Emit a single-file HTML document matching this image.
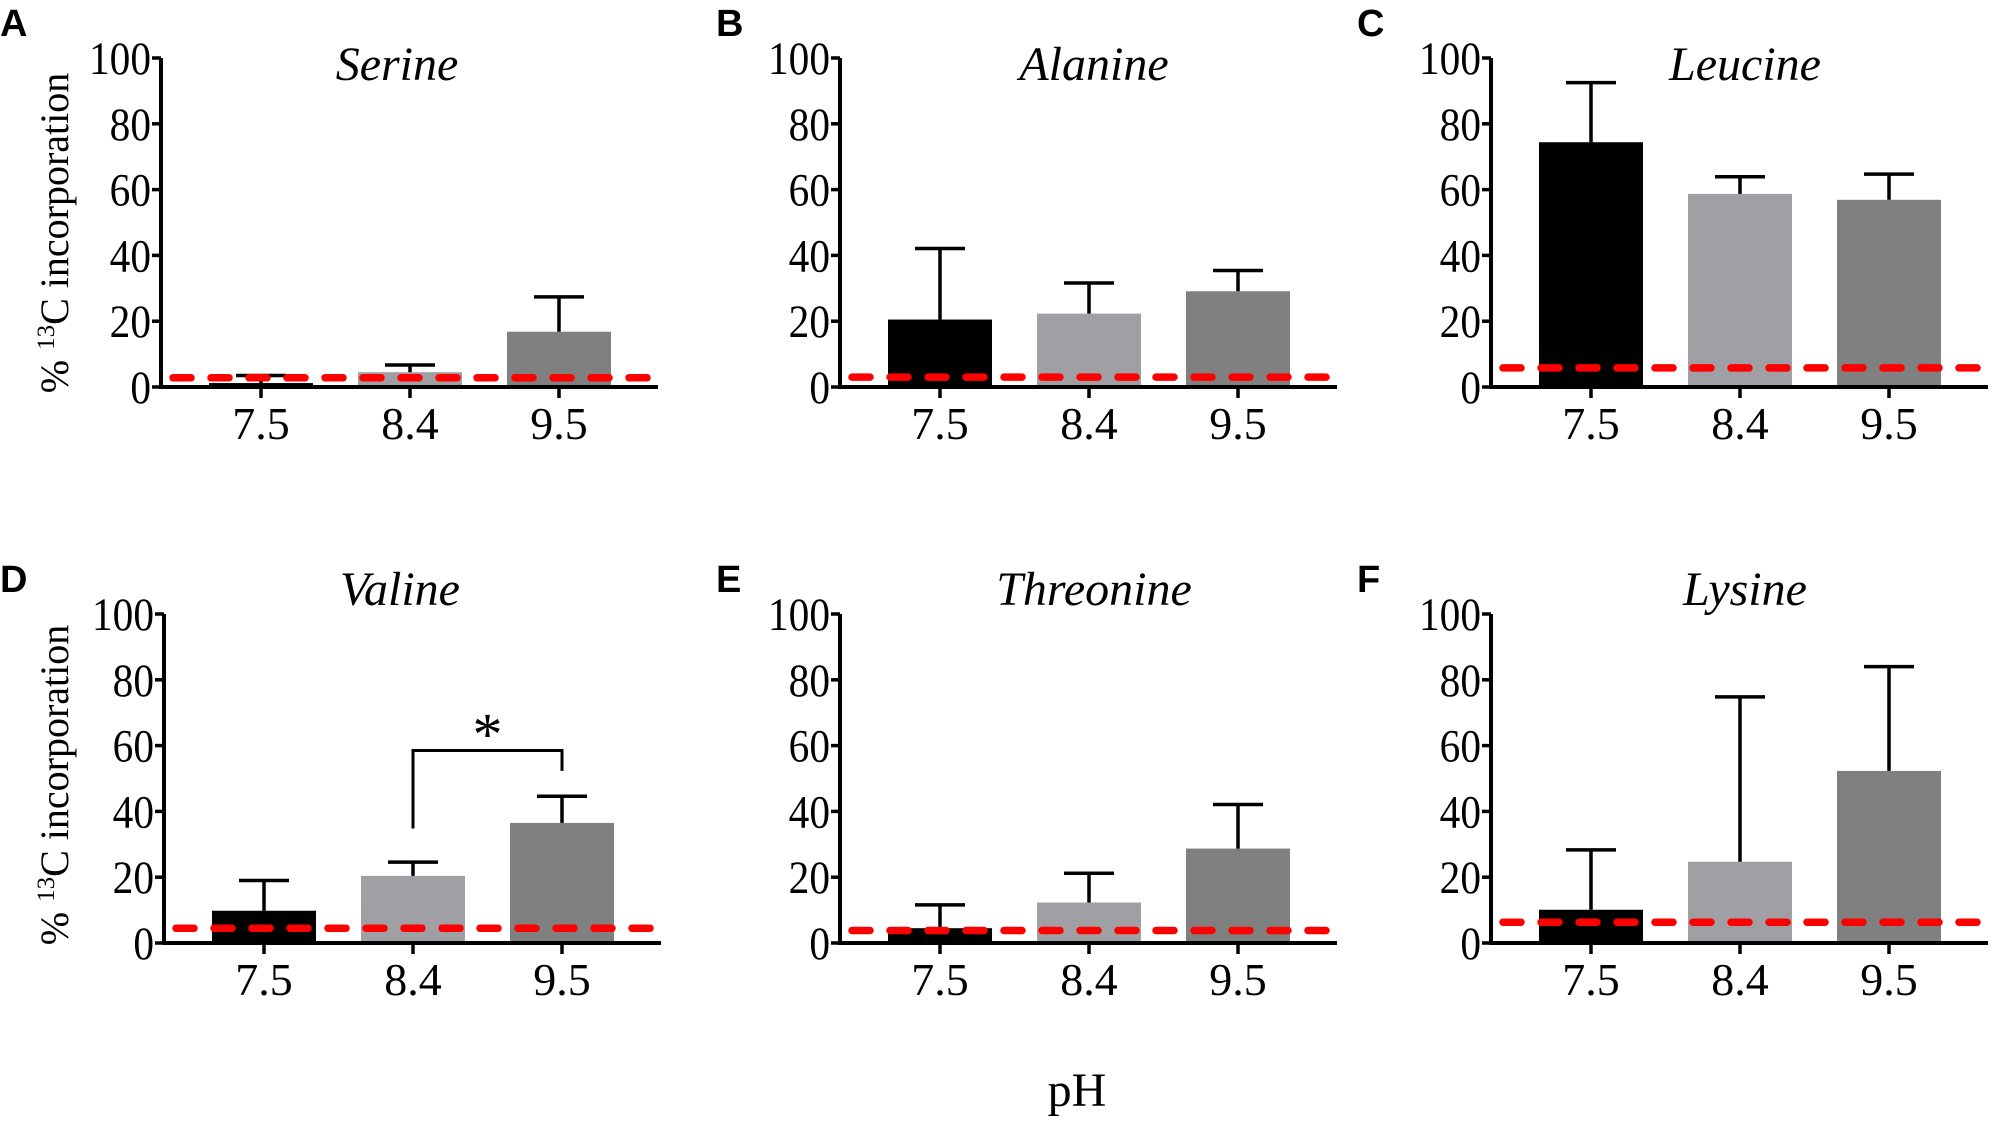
<!DOCTYPE html>
<html><head><meta charset="utf-8"><style>
html,body{margin:0;padding:0;background:#fff}
svg{display:block}
text{font-family:"Liberation Serif","Times New Roman",serif;fill:#000}
.lt{font-family:"Liberation Sans",Arial,sans-serif;font-weight:bold;font-size:38px}
</style></head><body>
<svg id="fig" width="1992" height="1123" viewBox="0 0 1992 1123" xmlns="http://www.w3.org/2000/svg">
<text x="1077" y="1106" font-size="48" font-family="Liberation Serif, serif" text-anchor="middle">pH</text>
</svg>
<script>
const categories = ["7.5","8.4","9.5"];
const titles = ["Serine","Alanine","Leucine","Valine","Threonine","Lysine"];
const letters = ["A","B","C","D","E","F"];
const means = [[1.2,4.5,16.8],[20.5,22.3,29.1],[74.4,58.7,56.9],[9.8,20.4,36.5],[4.5,12.3,28.7],[10.1,24.7,52.3]];
const errors = [[3.5,6.7,27.4],[42.1,31.6,35.4],[92.5,63.9,64.7],[19,24.6,44.6],[11.6,21.2,42.1],[28.3,74.8,84]];
const baselines = [2.8,3.0,5.8,4.5,3.8,6.3];
const yTicks = [0,20,40,60,80,100];
const barColors = ["#000000","#a0a0a4","#808080"];
const NS="http://www.w3.org/2000/svg";
const SERIF="Liberation Serif, Times New Roman, serif";
const svg=document.getElementById('fig');
function mk(tag,attrs,parent,txt){const e=document.createElementNS(NS,tag);for(const k in attrs)e.setAttribute(k,attrs[k]);if(txt!==undefined)e.textContent=txt;(parent||svg).appendChild(e);return e;}
const axX=[161,840,1491], axY0=[387,943], len=497, h100=329, offs=[100,249,398], bw=104;
for(let p=0;p<6;p++){
  const col=p%3,row=Math.floor(p/3);
  const x0=axX[col]+(row==1&&col==0?3:0), y0=axY0[row];
  const ys=v=>y0-v/100*h100;
  const xs=i=>x0+offs[i];
  const g=mk('g',{});
  
  
  const lt=mk('text',{x:[0,716,1357][col],y:row==0?36:592,class:'lt','font-family':'Liberation Sans, Arial, sans-serif','font-weight':'bold','font-size':38},g,letters[p]);
  
  
  const tt=mk('text',{x:x0+[236,254,254][col],y:row==0?80:605,'font-size':48,'font-family':SERIF,'font-style':'italic','text-anchor':'middle'},g,titles[p]);
  
  
  for(let i=0;i<3;i++){
    const r=mk('rect',{x:xs(i)-bw/2,y:ys(means[p][i]),width:bw,height:ys(0)-ys(means[p][i]),fill:barColors[i]},g);
    
    
    const e=mk('path',{d:`M${xs(i)},${ys(means[p][i])}V${ys(errors[p][i])}M${xs(i)-25},${ys(errors[p][i])}H${xs(i)+25}`,stroke:'#000','stroke-width':3.5,fill:'none'},g);
    
    
  }
  const ax=mk('path',{d:`M${x0},${ys(100)}V${y0}H${x0+len}`,stroke:'#000','stroke-width':4,fill:'none'},g);
  
  
  for(const t of yTicks){
    mk('line',{x1:x0-9,x2:x0,y1:ys(t),y2:ys(t),stroke:'#000','stroke-width':3.5},g);
    const lb=mk('text',{x:x0-10,y:ys(t)+16,'font-size':47,'font-family':SERIF,'text-anchor':'end',transform:`translate(${(x0-10)*0.12},0) scale(0.88,1)`},g,String(t));
    
    
  }
  for(let i=0;i<3;i++){
    mk('line',{x1:xs(i),x2:xs(i),y1:y0,y2:y0+11,stroke:'#000','stroke-width':3.5},g);
    const lb=mk('text',{x:xs(i),y:y0+52,'font-size':46,'font-family':SERIF,'text-anchor':'middle'},g,categories[i]);
    
    
  }
  const bl=mk('line',{x1:x0+12,x2:x0+len-4,y1:ys(baselines[p]),y2:ys(baselines[p]),stroke:'#ff0000','stroke-width':7.5,'stroke-linecap':'round','stroke-dasharray':'18 20'},g);
  
  
  if(col==0){
    const yt=mk('text',{transform:`translate(68,${row==0?233:785}) rotate(-90)`,'font-size':40,'font-family':SERIF,'text-anchor':'middle'},g);
    
    
    mk('tspan',{},yt,'% ');
    mk('tspan',{'font-size':25,dy:-14},yt,'13');
    mk('tspan',{dy:14},yt,'C incorporation');
  }
  if(p==3){
    const br=mk('path',{d:`M${xs(1)},${ys(34.8)}V${ys(58.5)}H${xs(2)}V${ys(52.3)}`,stroke:'#000','stroke-width':3,fill:'none'},g);
    
    
    const st=mk('text',{x:(xs(1)+xs(2))/2,y:ys(58.5)+4,'font-size':60,'font-family':SERIF,'text-anchor':'middle'},g,'*');
    
    
  }
}
</script>
</body></html>
